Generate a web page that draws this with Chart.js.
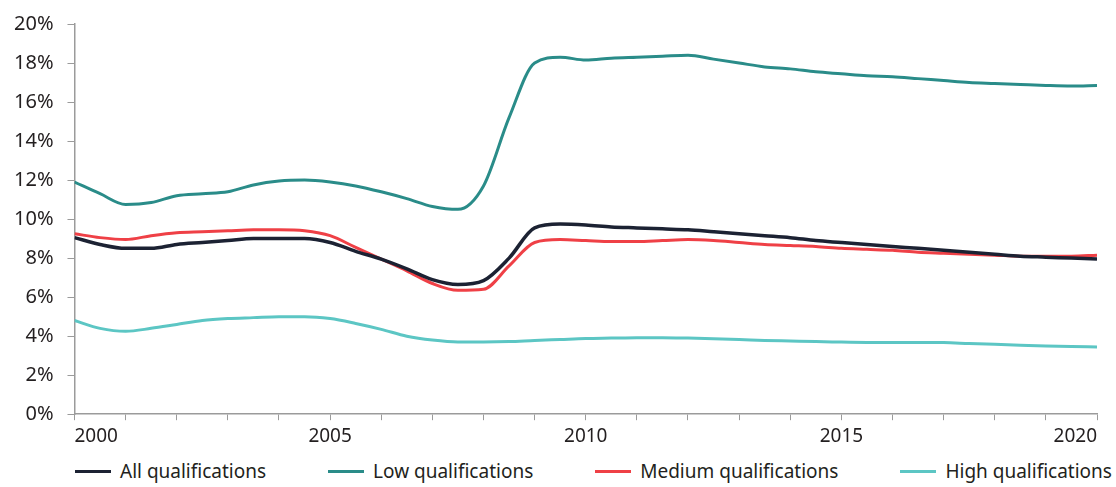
<!DOCTYPE html>
<html>
<head>
<meta charset="utf-8">
<script src="https://cdn.jsdelivr.net/npm/chart.js@4.4.1/dist/chart.umd.min.js"></script>
<style>
  html, body { margin: 0; padding: 0; background: #fff; }
  body { width: 1116px; height: 487px; overflow: hidden; font-family: "Noto Sans", sans-serif; }
  #wrap { position: relative; width: 1116px; height: 455px; }
  #legend { display: flex; justify-content: space-between; margin: 0 4px 0 75px; height: 32px; align-items: center; }
  #legend .item { display: flex; align-items: center; font-size: 19px; color: #231f20; }
  #legend .swatch { width: 36px; height: 3px; margin-right: 9px; }
</style>
</head>
<body>
<div id="wrap"><canvas id="qualChart"></canvas></div>
<div id="legend"></div>
<script>
// half-yearly points, 2000 to 2020
const years = [2000, 2000.5, 2001, 2001.5, 2002, 2002.5, 2003, 2003.5, 2004, 2004.5,
  2005, 2005.5, 2006, 2006.5, 2007, 2007.5, 2008, 2008.5, 2009, 2009.5,
  2010, 2010.5, 2011, 2011.5, 2012, 2012.5, 2013, 2013.5, 2014, 2014.5,
  2015, 2015.5, 2016, 2016.5, 2017, 2017.5, 2018, 2018.5, 2019, 2019.5, 2020];

const allQual = [9.05, 8.7, 8.5, 8.5, 8.7, 8.8, 8.9, 9.0, 9.0, 9.0,
  8.8, 8.35, 7.95, 7.45, 6.9, 6.65, 6.85, 8.0, 9.55, 9.75,
  9.7, 9.6, 9.55, 9.5, 9.45, 9.35, 9.25, 9.15, 9.05, 8.9,
  8.8, 8.7, 8.6, 8.5, 8.4, 8.3, 8.2, 8.1, 8.05, 8.0, 7.95];

const lowQual = [11.9, 11.3, 10.75, 10.85, 11.2, 11.3, 11.4, 11.75, 11.95, 12.0,
  11.9, 11.7, 11.4, 11.05, 10.65, 10.5, 11.7, 15.2, 18.0, 18.3,
  18.15, 18.25, 18.3, 18.35, 18.4, 18.2, 18.0, 17.8, 17.7, 17.55,
  17.45, 17.35, 17.3, 17.2, 17.1, 17.0, 16.95, 16.9, 16.85, 16.82, 16.85];

const medQual = [9.25, 9.05, 8.95, 9.15, 9.3, 9.35, 9.4, 9.45, 9.45, 9.4,
  9.15, 8.55, 7.95, 7.35, 6.7, 6.35, 6.4, 7.6, 8.8, 8.95,
  8.9, 8.85, 8.85, 8.9, 8.95, 8.9, 8.8, 8.7, 8.65, 8.6,
  8.5, 8.45, 8.4, 8.3, 8.25, 8.2, 8.15, 8.1, 8.1, 8.1, 8.15];

const highQual = [4.8, 4.4, 4.25, 4.4, 4.6, 4.8, 4.9, 4.95, 5.0, 5.0,
  4.9, 4.65, 4.35, 4.0, 3.8, 3.7, 3.7, 3.72, 3.78, 3.83,
  3.88, 3.9, 3.92, 3.92, 3.9, 3.87, 3.83, 3.78, 3.75, 3.72,
  3.7, 3.68, 3.67, 3.67, 3.67, 3.62, 3.58, 3.54, 3.5, 3.47, 3.45];

const seriesNames = ['All qualifications', 'Low qualifications', 'Medium qualifications', 'High qualifications'];
const seriesColors = ['#1c2233', '#2a8c89', '#ef4046', '#5cc6c4'];

const yTicks = [0, 2, 4, 6, 8, 10, 12, 14, 16, 18, 20];

const axisGrey = '#9b9b9b';
const textColor = '#231f20';

function toPoints(values) {
  return years.map((x, i) => ({ x: x, y: values[i] }));
}

const datasets = [allQual, lowQual, medQual, highQual].map((vals, i) => ({
  label: seriesNames[i],
  data: toPoints(vals),
  borderColor: seriesColors[i],
  backgroundColor: seriesColors[i],
  borderWidth: i === 0 ? 3.5 : 3,
  pointRadius: 0,
  cubicInterpolationMode: 'monotone',
  fill: false
}));

const ctx = document.getElementById('qualChart').getContext('2d');
new Chart(ctx, {
  type: 'line',
  data: { datasets: datasets },
  options: {
    responsive: true,
    maintainAspectRatio: false,
    animation: false,
    layout: { autoPadding: false, padding: { top: 7, right: 19, bottom: 2, left: 0 } },
    plugins: {
      legend: { display: false },
      tooltip: { enabled: false }
    },
    scales: {
      x: {
        type: 'linear',
        min: 2000,
        max: 2020,
        grid: { drawOnChartArea: false, drawTicks: true, tickLength: 6, color: axisGrey },
        border: { display: true, color: axisGrey, width: 1.5 },
        ticks: {
          stepSize: 1,
          autoSkip: false,
          maxRotation: 0,
          align: 'inner',
          padding: 5,
          color: textColor,
          font: { family: 'Noto Sans', size: 19 },
          callback: v => (v % 5 === 0 ? String(v) : '')
        }
      },
      y: {
        min: 0,
        max: 20,
        afterBuildTicks: axis => { axis.ticks = yTicks.map(v => ({ value: v })); },
        grid: { drawOnChartArea: false, drawTicks: true, tickLength: 7, color: axisGrey },
        border: { display: true, color: axisGrey, width: 1.5 },
        ticks: {
          padding: 14,
          color: textColor,
          font: { family: 'Noto Sans', size: 20, lineHeight: 1 },
          callback: v => v + '%'
        }
      }
    }
  }
});

// legend under the chart
const legend = document.getElementById('legend');
seriesNames.forEach((name, i) => {
  const item = document.createElement('div');
  item.className = 'item';
  item.innerHTML = `<span class="swatch" style="background:${seriesColors[i]}"></span><span>${name}</span>`;
  legend.appendChild(item);
});
</script>
</body>
</html>
